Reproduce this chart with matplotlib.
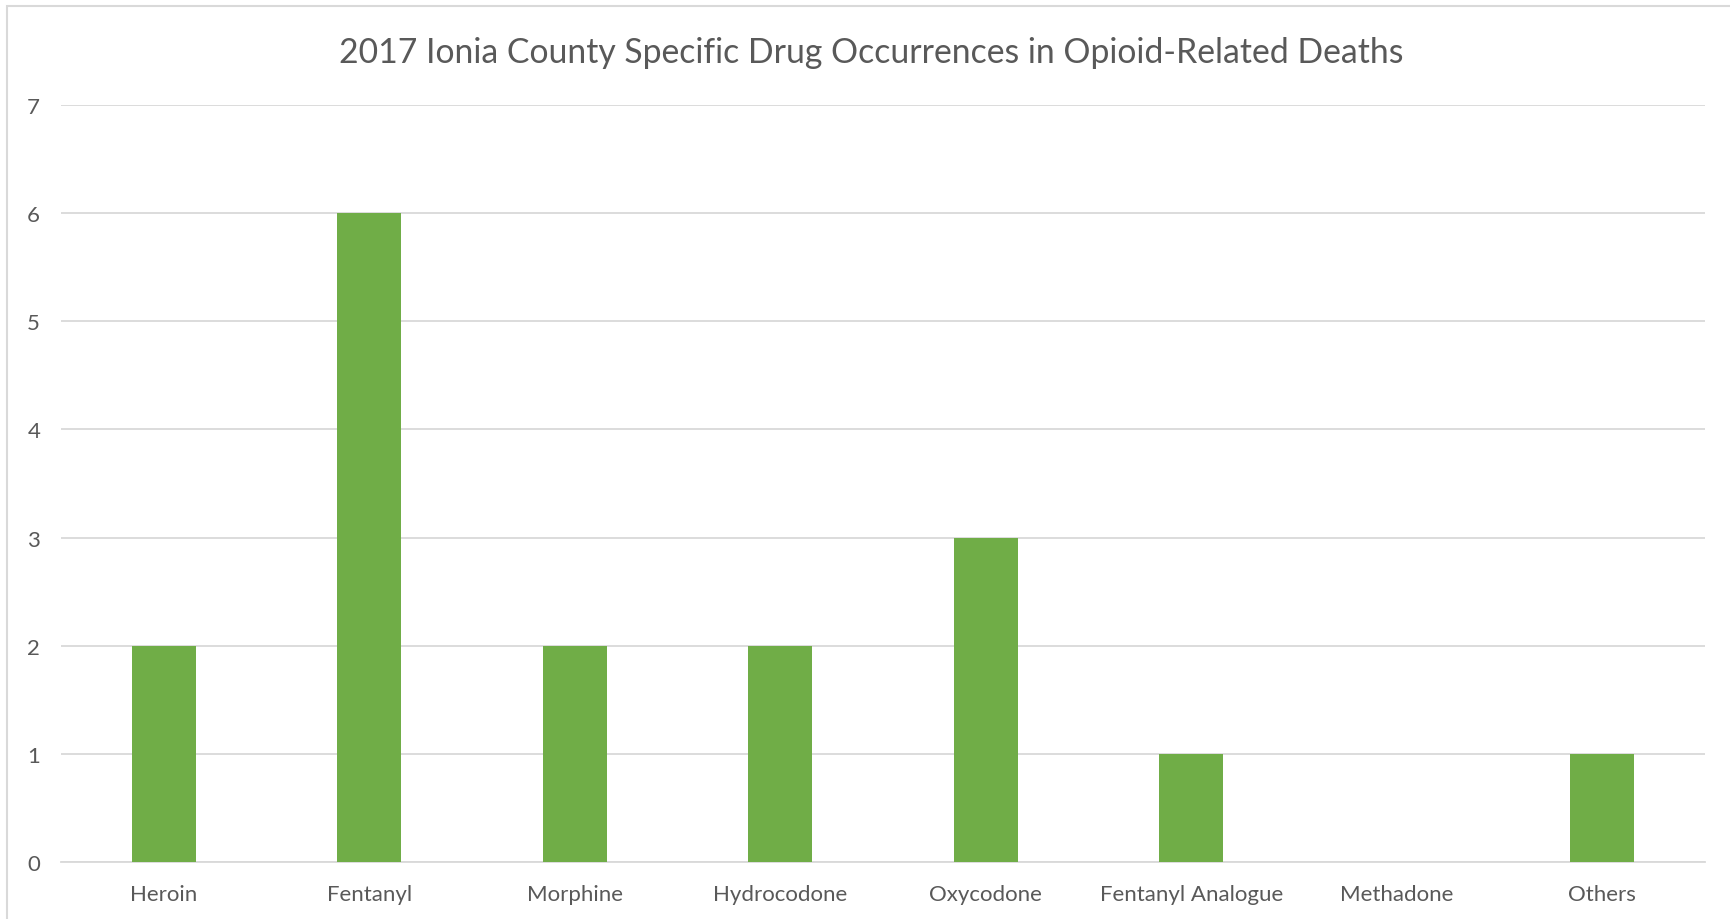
import matplotlib.pyplot as plt
from matplotlib.patches import Rectangle

# data
drugs = ["Heroin", "Fentanyl", "Morphine", "Hydrocodone", "Oxycodone",
         "Fentanyl Analogue", "Methadone", "Others"]
occurrences = [2, 6, 2, 2, 3, 1, 0, 1]
y_ticks = [0, 1, 2, 3, 4, 5, 6, 7]

title = "2017 Ionia County Specific Drug Occurrences in Opioid-Related Deaths"

text_grey = "#595959"
grid_grey = "#d9d9d9"
bar_green = "#70ad47"

plt.rcParams['font.family'] = ['Lato', 'DejaVu Sans']

fig = plt.figure(figsize=(17.3, 9.2), dpi=100)
ax = fig.add_axes([61 / 1730, 1 - 863 / 920, 1644 / 1730, 757 / 920])

x = range(len(drugs))
ax.bar(x, occurrences, width=0.31, color=bar_green, zorder=3)

ax.set_xlim(-0.5, len(drugs) - 0.5)
ax.set_ylim(0, 7)
ax.set_yticks(y_ticks)
ax.set_xticks(list(x))
ax.set_xticklabels(drugs)

ax.grid(axis="y", color=grid_grey, linewidth=1.3, zorder=0)
for s in ["top", "right", "left"]:
    ax.spines[s].set_visible(False)
ax.spines["bottom"].set_color(grid_grey)
ax.spines["bottom"].set_linewidth(1.3)
ax.tick_params(axis="both", length=0, labelsize=16, labelcolor=text_grey)
ax.tick_params(axis="x", pad=16)
ax.tick_params(axis="y", pad=15)

fig.text(871 / 1730, 1 - 53 / 920, title, ha="center", va="center",
         fontsize=24.3, color=text_grey)

# chart border (extends past right/bottom edge)
fig.patches.append(Rectangle((7 / 1730, -0.1), 1.2, 1.1 - 7 / 920,
                             transform=fig.transFigure, fill=False,
                             edgecolor=grid_grey, linewidth=1.5))

fig.savefig("out.png", dpi=100)
